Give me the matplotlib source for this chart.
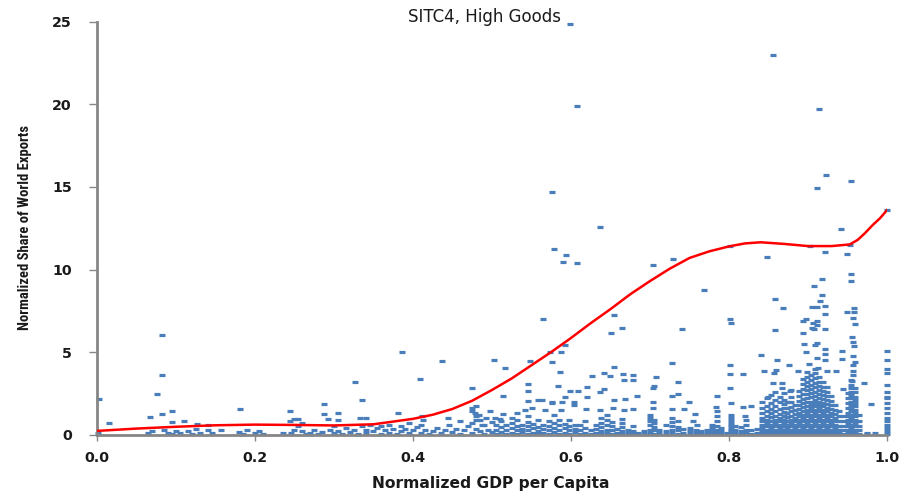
import matplotlib
matplotlib.use("Agg")
import matplotlib.pyplot as plt
from matplotlib import font_manager

# ---------------- data ----------------
# isolated / upper points
out_x = [0.599, 0.856, 0.607, 0.914, 0.923, 0.576, 0.911, 0.954, 1.0, 0.637, 0.942,
         0.578, 0.594, 0.59, 0.607, 0.801, 0.903, 0.953, 0.922, 0.949, 0.848, 0.729,
         0.704, 0.768, 0.954, 0.955, 0.918, 0.908, 0.918, 0.915, 0.858, 0.868, 0.905,
         0.911, 0.922, 0.922, 0.958, 0.958, 0.949, 0.957, 0.96, 0.655, 0.564, 0.801,
         0.803, 0.894, 0.898, 0.906, 0.911, 0.665, 0.74, 0.858, 0.908, 0.922, 0.65,
         0.911, 0.894, 0.905, 0.956, 0.957, 0.958, 0.895, 0.911, 0.909, 0.922, 0.943,
         1.0, 0.898, 0.84, 0.082, 0.082, 0.076, 0.003, 0.386, 0.437, 0.503, 0.327,
         0.409, 0.592, 0.587, 0.573, 0.548, 0.576, 0.516, 0.654, 0.728, 0.801, 0.861,
         0.876, 0.901, 0.921, 0.921, 0.911, 0.913, 0.943, 0.957, 0.959, 1.0, 1.0, 1.0]
out_y = [24.9, 23.0, 19.9, 19.7, 15.7, 14.7, 14.96, 15.36, 13.6, 12.6, 12.47,
         11.26, 10.86, 10.47, 10.39, 11.42, 11.4, 11.5, 11.06, 10.94, 10.78, 10.64,
         10.3, 8.78, 9.73, 9.28, 9.42, 9.0, 8.45, 8.1, 8.2, 7.65, 7.75,
         7.7, 7.8, 7.28, 7.65, 7.45, 7.4, 7.08, 6.68, 7.26, 6.98, 7.0,
         6.76, 6.9, 7.0, 6.74, 6.85, 6.44, 6.4, 6.36, 6.4, 6.4, 6.13,
         6.64, 6.13, 6.45, 5.89, 5.6, 5.36, 5.47, 5.57, 5.4, 5.18, 5.08,
         5.08, 4.98, 4.82, 6.01, 3.6, 2.44, 2.13, 5.0, 4.47, 4.5, 3.18,
         3.34, 5.42, 4.98, 4.98, 4.43, 4.38, 4.05, 4.11, 4.35, 4.21, 4.5,
         4.21, 4.27, 4.52, 4.86, 4.65, 4.04, 4.6, 4.76, 4.4, 4.52, 4.0, 3.7]

# middle-level points (about 1 to 4)
mid_x = [0.586, 0.642, 0.649, 0.666, 0.678, 0.627, 0.667, 0.678, 0.708, 0.735, 0.546,
         0.546, 0.584, 0.62, 0.599, 0.609, 0.642, 0.637, 0.705, 0.704, 0.735, 0.728,
         0.514, 0.592, 0.62, 0.684, 0.654, 0.668, 0.546, 0.558, 0.563, 0.576, 0.588,
         0.604, 0.704, 0.749, 0.587, 0.604, 0.619, 0.637, 0.653, 0.667, 0.678, 0.704,
         0.728, 0.743, 0.514, 0.532, 0.542, 0.551, 0.567, 0.576,
         0.801, 0.801, 0.803, 0.818, 0.844, 0.86, 0.857, 0.856, 0.887, 0.924, 0.935,
         0.957, 0.957, 0.957, 0.956, 0.971, 0.944, 1.0, 0.98, 0.867, 0.867, 0.877,
         0.849, 0.785, 0.784, 0.818, 0.828, 0.757, 0.82, 0.754, 0.76,
         0.067, 0.082, 0.095, 0.015, 0.095, 0.11, 0.127, 0.181, 0.244, 0.244, 0.25,
         0.335, 0.475, 0.287, 0.287, 0.292, 0.305, 0.305, 0.333, 0.34, 0.381, 0.411,
         0.413, 0.444, 0.475, 0.48, 0.475, 0.498, 0.48, 0.504, 0.51, 0.254]
mid_y = [3.8, 3.71, 3.56, 3.65, 3.6, 3.56, 3.3, 3.3, 3.47, 3.16, 3.06,
         2.66, 2.96, 2.86, 2.64, 2.64, 2.76, 2.6, 2.96, 2.8, 2.45, 2.33,
         2.33, 2.25, 2.25, 2.33, 2.09, 2.15, 2.05, 2.09, 2.09, 1.99, 2.0,
         2.0, 2.0, 1.95, 1.5, 1.8, 1.55, 1.48, 1.59, 1.48, 1.53, 1.6,
         1.53, 1.53, 1.24, 1.32, 1.48, 1.6, 1.48, 1.93,
         3.65, 2.8, 1.89, 3.67, 3.87, 3.9, 3.7, 3.14, 3.87, 3.87, 3.87,
         4.2, 3.87, 3.6, 3.26, 3.14, 2.76, 2.24, 1.85, 3.1, 2.8, 2.66,
         2.25, 2.33, 1.66, 1.66, 1.73, 1.22, 1.15, 0.8, 0.55,
         1.08, 1.24, 1.4, 0.72, 0.75, 0.84, 0.65, 1.55, 1.4, 0.84, 0.93,
         2.09, 2.84, 1.85, 1.22, 0.96, 1.32, 0.9, 0.98, 0.98, 1.28, 1.15,
         0.9, 0.98, 1.6, 1.7, 1.4, 1.45, 1.1, 0.98, 0.93, 0.93]

# low-income bottom points
low_x = [0.001, 0.065, 0.07, 0.085, 0.09, 0.095, 0.1, 0.105, 0.115, 0.12, 0.125, 0.13,
         0.14, 0.14, 0.145, 0.157, 0.18, 0.185, 0.19, 0.2, 0.205, 0.21, 0.235,
         0.245, 0.25, 0.255, 0.26, 0.265, 0.26, 0.27, 0.275, 0.28, 0.285,
         0.295, 0.3, 0.3, 0.305, 0.31, 0.315, 0.32, 0.325, 0.33, 0.335,
         0.34, 0.34, 0.345, 0.35, 0.355, 0.36, 0.36, 0.365, 0.37, 0.37, 0.375, 0.38,
         0.385, 0.385, 0.39, 0.395, 0.395, 0.4, 0.405, 0.41, 0.41, 0.415, 0.42, 0.425,
         0.43, 0.435, 0.44, 0.445, 0.45, 0.455, 0.46, 0.46, 0.465, 0.47, 0.475, 0.475,
         0.48, 0.485, 0.485, 0.49, 0.49, 0.495, 0.5, 0.5, 0.48, 0.483, 0.487, 0.492, 0.478]
low_y = [0.1, 0.1, 0.2, 0.3, 0.1, 0.05, 0.2, 0.1, 0.2, 0.05, 0.35, 0.1,
         0.6, 0.3, 0.1, 0.3, 0.15, 0.05, 0.25, 0.1, 0.2, 0.05, 0.1,
         0.1, 0.3, 0.5, 0.2, 0.05, 0.7, 0.1, 0.25, 0.05, 0.15,
         0.3, 0.1, 0.5, 0.2, 0.05, 0.4, 0.15, 0.3, 0.05, 0.5,
         0.1, 0.3, 0.6, 0.2, 0.4, 0.05, 0.5, 0.25, 0.1, 0.6, 0.35, 0.05,
         0.2, 0.5, 0.35, 0.1, 0.7, 0.25, 0.45, 0.1, 0.6, 0.3, 0.05, 0.2,
         0.4, 0.1, 0.3, 0.55, 0.15, 0.35, 0.05, 0.8, 0.25, 0.5, 0.1, 0.7,
         0.35, 0.2, 0.9, 0.05, 0.55, 0.3, 0.15, 0.75, 0.9, 1.2, 0.6, 1.0, 1.3]

# dense stacks near the floor: x of each column and the values stacked in it
col_x = [0.505, 0.512, 0.518, 0.525, 0.532, 0.538, 0.545, 0.552, 0.558, 0.565, 0.572,
         0.578, 0.585, 0.592, 0.598, 0.605, 0.612, 0.618, 0.625, 0.632, 0.638, 0.645,
         0.652, 0.658, 0.665, 0.672, 0.678, 0.685, 0.692, 0.70, 0.705, 0.712, 0.72,
         0.728, 0.735, 0.742, 0.75, 0.758, 0.765, 0.772, 0.778, 0.785, 0.79, 0.797,
         0.802, 0.807, 0.815, 0.822, 0.828, 0.835,
         0.842, 0.848, 0.853, 0.858, 0.864, 0.869, 0.874, 0.879, 0.884, 0.889, 0.894,
         0.899, 0.904, 0.909, 0.914, 0.919, 0.924, 0.929, 0.934, 0.939, 0.944, 0.95,
         0.955, 0.96, 0.965, 0.975, 0.985, 1.0]
col_y = [[0.05, 0.3, 0.6], [0.15, 0.45, 0.8], [0.05, 0.3, 0.55], [0.1, 0.4, 0.7, 1.0],
         [0.05, 0.25, 0.5, 0.85], [0.15, 0.35, 0.6], [0.05, 0.3, 0.5, 0.75, 1.1],
         [0.1, 0.4, 0.65], [0.05, 0.2, 0.45, 0.9], [0.1, 0.35, 0.6], [0.05, 0.25, 0.5, 0.8],
         [0.15, 0.4, 0.7, 1.2], [0.05, 0.3, 0.55, 0.85], [0.1, 0.4, 0.65],
         [0.05, 0.25, 0.5, 0.9], [0.15, 0.35, 0.6], [0.05, 0.3, 0.55], [0.1, 0.4, 0.8],
         [0.05, 0.25], [0.1, 0.35, 0.6], [0.05, 0.2, 0.45, 0.7, 1.0],
         [0.1, 0.3, 0.55, 0.85, 1.2], [0.05, 0.25, 0.5, 0.75], [0.1, 0.35],
         [0.05, 0.2, 0.45, 0.7, 0.95], [0.1, 0.3], [0.05, 0.2, 0.5], [0.1], [0.05, 0.2],
         [0.1, 0.3, 0.55, 0.8, 1.0, 1.2], [0.05, 0.25, 0.45, 0.7, 0.9], [0.1, 0.3],
         [0.05, 0.2, 0.6], [0.1, 0.3, 0.5, 0.75, 1.0], [0.05, 0.25, 0.45, 0.8], [0.1, 0.35],
         [0.05, 0.2, 0.4], [0.1, 0.3], [0.05, 0.2], [0.1, 0.3], [0.05, 0.2, 0.4, 0.6],
         [0.1, 0.3, 0.5, 0.8, 1.1, 1.4], [0.05, 0.2, 0.4], [0.1],
         [0.05, 0.2, 0.35, 0.5, 0.65, 0.8, 1.0, 1.2], [0.1, 0.3, 0.5], [0.05, 0.2, 0.45],
         [0.1, 0.3, 0.6, 0.9], [0.05, 0.25], [0.1, 0.35],
         [0.05, 0.2, 0.4, 0.6, 0.8, 1.0, 1.3, 1.6, 2.0],
         [0.1, 0.3, 0.5, 0.7, 0.9, 1.15, 1.4, 1.7, 2.2],
         [0.05, 0.2, 0.4, 0.6, 0.8, 1.05, 1.3, 1.55, 1.9, 2.4],
         [0.1, 0.3, 0.5, 0.7, 0.9, 1.15, 1.4, 1.75, 2.1, 2.6],
         [0.05, 0.2, 0.4, 0.6, 0.8, 1.0, 1.25, 1.55, 1.95, 2.3],
         [0.1, 0.3, 0.5, 0.7, 0.9, 1.1, 1.35, 1.6, 1.85, 2.1, 2.5],
         [0.05, 0.2, 0.4, 0.6, 0.8, 1.05, 1.3, 1.6, 2.0],
         [0.1, 0.3, 0.5, 0.7, 0.9, 1.15, 1.4, 1.65, 1.95, 2.25, 2.7],
         [0.05, 0.2, 0.4, 0.6, 0.8, 1.0, 1.25, 1.5, 1.8],
         [0.1, 0.3, 0.5, 0.7, 0.9, 1.1, 1.3, 1.55, 1.8, 2.05, 2.35, 2.65],
         [0.05, 0.2, 0.4, 0.6, 0.8, 1.0, 1.2, 1.4, 1.65, 1.9, 2.15, 2.45, 2.75, 3.05, 3.35],
         [0.1, 0.3, 0.5, 0.7, 0.9, 1.1, 1.3, 1.5, 1.7, 1.95, 2.2, 2.45, 2.7, 2.95, 3.2, 3.5, 3.8],
         [0.05, 0.2, 0.4, 0.6, 0.8, 1.0, 1.2, 1.4, 1.6, 1.8, 2.0, 2.25, 2.5, 2.75, 3.0, 3.3, 3.6],
         [0.1, 0.3, 0.5, 0.7, 0.9, 1.1, 1.3, 1.5, 1.7, 1.9, 2.1, 2.35, 2.6, 2.85, 3.1, 3.4, 3.7, 3.95],
         [0.05, 0.2, 0.4, 0.6, 0.8, 1.0, 1.2, 1.4, 1.6, 1.8, 2.0, 2.2, 2.45, 2.7, 2.95, 3.2, 3.5],
         [0.1, 0.3, 0.5, 0.7, 0.9, 1.1, 1.3, 1.5, 1.7, 1.9, 2.15, 2.4, 2.65, 2.9, 3.2],
         [0.05, 0.2, 0.4, 0.6, 0.8, 1.0, 1.2, 1.4, 1.6, 1.85, 2.1, 2.35, 2.6, 2.9],
         [0.1, 0.3, 0.5, 0.7, 0.9, 1.1, 1.3, 1.55, 1.8, 2.05, 2.35],
         [0.05, 0.2, 0.4, 0.6, 0.8, 1.0, 1.25, 1.5, 1.8],
         [0.1, 0.3, 0.5, 0.8, 1.1, 1.4], [0.05, 0.25, 0.5, 0.8, 1.1],
         [0.1, 0.3, 0.5, 0.7, 0.9, 1.1, 1.3, 1.6, 1.9, 2.2, 2.5],
         [0.05, 0.2, 0.4, 0.6, 0.8, 1.0, 1.2, 1.4, 1.6, 1.8, 2.0, 2.2, 2.4, 2.6, 2.8, 3.0, 3.3],
         [0.1, 0.3, 0.5, 0.7, 0.9, 1.1, 1.3, 1.5, 1.7, 1.9, 2.1, 2.3, 2.55, 2.8],
         [0.05, 0.25, 0.5, 0.8, 1.2], [0.1, 0.05], [0.1],
         [0.05, 0.2, 0.4, 0.6, 0.8, 1.0, 1.3, 1.6, 1.9, 2.3, 2.6, 3.0]]

# fitted trend (red line)
fit_x = [0.0, 0.05, 0.1, 0.15, 0.2, 0.25, 0.3, 0.35, 0.4, 0.425, 0.45, 0.475, 0.5, 0.525,
         0.55, 0.575, 0.6, 0.625, 0.65, 0.675, 0.7, 0.725, 0.75, 0.775, 0.8, 0.82, 0.84,
         0.87, 0.9, 0.93, 0.953, 0.963, 0.972, 0.982, 0.991, 1.0]
fit_y = [0.22, 0.36, 0.47, 0.56, 0.6, 0.58, 0.55, 0.62, 0.95, 1.2, 1.55, 2.05, 2.7, 3.4,
         4.2, 5.0, 5.85, 6.75, 7.6, 8.5, 9.3, 10.05, 10.7, 11.1, 11.4, 11.58, 11.65,
         11.55, 11.42, 11.42, 11.52, 11.8, 12.2, 12.7, 13.1, 13.6]

tick_vals_x = [0.0, 0.2, 0.4, 0.6, 0.8, 1.0]
tick_labels_x = ["0.0", "0.2", "0.4", "0.6", "0.8", "1.0"]
tick_vals_y = [0, 5, 10, 15, 20, 25]

# ---------------- plot ----------------
dots_x = out_x + mid_x + low_x
dots_y = out_y + mid_y + low_y
for cx, ys in zip(col_x, col_y):
    dots_x += [cx] * len(ys)
    dots_y += ys

fig = plt.figure(figsize=(9.03, 4.94), dpi=100)
ax = fig.add_axes([0.1074, 0.1204, 0.8749, 0.8351])

blue = "#4A7EBB"
ax.plot(dots_x, dots_y, linestyle="none", marker="_", markersize=4.6,
        markeredgewidth=2.3, color=blue, clip_on=False, zorder=2)
ax.plot(fit_x, fit_y, color="#FF0000", linewidth=1.8, zorder=3,
        solid_joinstyle="round")

ax.set_xlim(0, 1.0)
ax.set_ylim(0, 25)
ax.set_xticks(tick_vals_x)
ax.set_xticklabels(tick_labels_x)
ax.set_yticks(tick_vals_y)

for s in ["top", "right"]:
    ax.spines[s].set_visible(False)
for s in ["left", "bottom"]:
    ax.spines[s].set_color("#868686")
    ax.spines[s].set_linewidth(2.0)

ax.tick_params(axis="both", colors="#868686", width=1.0, direction="out")
ax.tick_params(axis="y", length=6, pad=12)
ax.tick_params(axis="x", length=4, pad=8)
for lab in ax.get_xticklabels() + ax.get_yticklabels():
    lab.set_color("#1a1a1a")
    lab.set_fontweight("bold")
    lab.set_fontsize(10.3)
    lab.set_family("DejaVu Sans")

fig.text(0.536, 0.965, "SITC4, High Goods", ha="center", va="center",
         fontsize=12, color="#1a1a1a", family="DejaVu Sans")
fig.text(0.544, 0.022, "Normalized GDP per Capita", ha="center", va="center",
         fontsize=11.2, fontweight="bold", color="#1a1a1a", family="DejaVu Sans")

avail = {f.name for f in font_manager.fontManager.ttflist}
yfam = "DejaVu Sans"
for cand in ["Liberation Sans Narrow", "DejaVu Sans Condensed", "Roboto Condensed"]:
    if cand in avail:
        yfam = cand
        break
ylab = fig.text(0.028, 0.54, "Normalized Share of World Exports", ha="center",
                va="center", rotation=90, fontsize=10, fontweight="bold",
                color="#1a1a1a", family=yfam)
renderer = fig.canvas.get_renderer()
h = ylab.get_window_extent(renderer).height
ylab.set_fontsize(10 * 205.0 / h)

fig.savefig("out.png", dpi=100)
